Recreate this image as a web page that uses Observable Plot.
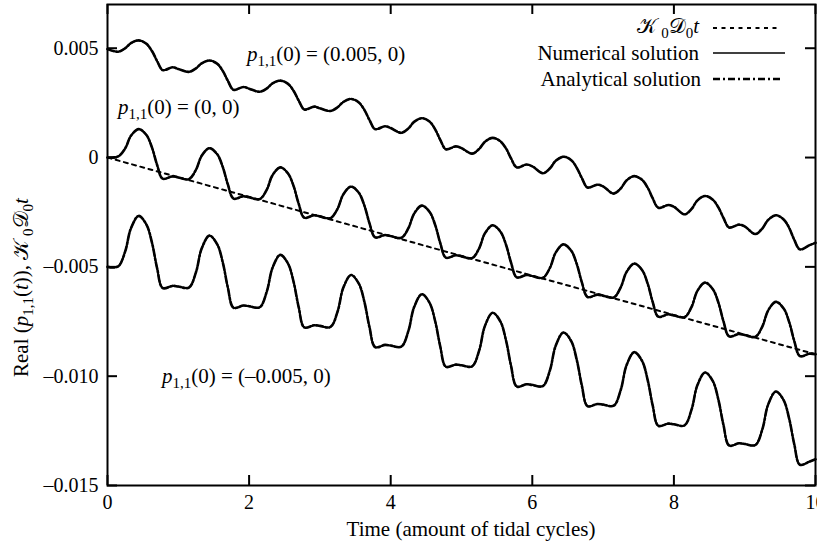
<!DOCTYPE html>
<html><head><meta charset="utf-8">
<script src="https://cdn.jsdelivr.net/npm/d3@7"></script>
<script src="https://cdn.jsdelivr.net/npm/@observablehq/plot@0.6"></script>
<style>body{margin:0;background:#fff}#chart{width:817px;height:548px}</style>
</head><body><div id="chart"></div>
<script>
// time samples (tidal cycles)
const times = [
0,0.15,0.25,0.33,0.44,0.55,0.63,0.70,0.78,0.92,
1,1.15,1.25,1.33,1.44,1.55,1.63,1.70,1.78,1.92,
2,2.15,2.25,2.33,2.44,2.55,2.63,2.70,2.78,2.92,
3,3.15,3.25,3.33,3.44,3.55,3.63,3.70,3.78,3.92,
4,4.15,4.25,4.33,4.44,4.55,4.63,4.70,4.78,4.92,
5,5.15,5.25,5.33,5.44,5.55,5.63,5.70,5.78,5.92,
6,6.15,6.25,6.33,6.44,6.55,6.63,6.70,6.78,6.92,
7,7.15,7.25,7.33,7.44,7.55,7.63,7.70,7.78,7.92,
8,8.15,8.25,8.33,8.44,8.55,8.63,8.70,8.78,8.92,
9,9.15,9.25,9.33,9.44,9.55,9.63,9.70,9.78,9.92,
10];
// Real p11(t), p11(0) = (0.005, 0)
const pPos = [
0.00496,0.00484,0.0050,0.00523,0.00536,0.0052,0.00486,0.00442,0.0040,0.00413,
0.00405,0.00392,0.00408,0.00431,0.00444,0.00429,0.00395,0.00351,0.0031,0.00323,
0.00315,0.00301,0.00316,0.00339,0.00352,0.00337,0.00304,0.00261,0.0022,0.00233,
0.00225,0.00213,0.0023,0.00254,0.00268,0.00252,0.00217,0.00172,0.0013,0.00143,
0.00135,0.00113,0.00133,0.00163,0.0018,0.00164,0.00128,0.00081,0.00038,0.00051,
0.00043,0.00018,0.0004,0.00072,0.0009,0.00074,0.00041,-0.00004,-0.00045,-0.00032,
-0.0004,-0.00072,-0.00049,-0.00015,0.00004,-0.00012,-0.00048,-0.00094,-0.00137,-0.00124,
-0.00132,-0.00165,-0.00141,-0.00105,-0.00085,-0.00102,-0.00138,-0.00186,-0.0023,-0.00217,
-0.00225,-0.0026,-0.00235,-0.00197,-0.00176,-0.00193,-0.00229,-0.00276,-0.0032,-0.00307,
-0.00315,-0.0035,-0.00324,-0.00286,-0.00264,-0.00283,-0.00323,-0.00376,-0.0042,-0.004,
-0.0039];
// Real p11(t), p11(0) = (0, 0)
const pZero = [
0,0.00005,0.00042,0.00099,0.0013,0.00103,0.00044,-0.00033,-0.00097,-0.00086,
-0.00091,-0.00099,-0.00056,0.00008,0.00043,0.00015,-0.00045,-0.00123,-0.00188,-0.00177,
-0.00182,-0.0019,-0.00147,-0.00081,-0.00045,-0.00073,-0.00132,-0.00211,-0.00275,-0.00264,
-0.00269,-0.00277,-0.00234,-0.00169,-0.00133,-0.00161,-0.00221,-0.003,-0.00365,-0.00354,
-0.00359,-0.00367,-0.00323,-0.00257,-0.0022,-0.00249,-0.0031,-0.00391,-0.00458,-0.00447,
-0.00452,-0.0046,-0.00415,-0.00347,-0.0031,-0.00339,-0.004,-0.00481,-0.00548,-0.00537,
-0.00542,-0.0055,-0.00504,-0.00435,-0.00397,-0.00426,-0.00489,-0.00571,-0.00638,-0.00627,
-0.00632,-0.0064,-0.00593,-0.00524,-0.00485,-0.00514,-0.00577,-0.0066,-0.00728,-0.00717,
-0.00722,-0.0073,-0.00683,-0.00611,-0.00572,-0.00602,-0.00665,-0.00749,-0.00818,-0.00807,
-0.00812,-0.0082,-0.00772,-0.007,-0.0066,-0.0069,-0.00754,-0.00839,-0.00908,-0.00897,
-0.009];
// Real p11(t), p11(0) = (-0.005, 0)
const pNeg = [
-0.005,-0.00498,-0.00429,-0.00325,-0.00267,-0.00307,-0.00392,-0.00505,-0.00597,-0.00587,
-0.0059,-0.00595,-0.00524,-0.00416,-0.00357,-0.00397,-0.00482,-0.00595,-0.00687,-0.00677,
-0.0068,-0.00685,-0.00613,-0.00505,-0.00445,-0.00485,-0.00571,-0.00684,-0.00777,-0.00767,
-0.0077,-0.00775,-0.00704,-0.00596,-0.00537,-0.00577,-0.00662,-0.00775,-0.00867,-0.00857,
-0.0086,-0.00865,-0.00793,-0.00685,-0.00625,-0.00665,-0.00751,-0.00864,-0.00957,-0.00947,
-0.0095,-0.00955,-0.00882,-0.00771,-0.0071,-0.0075,-0.00838,-0.00953,-0.01047,-0.01037,
-0.0104,-0.01045,-0.00972,-0.00861,-0.008,-0.0084,-0.00928,-0.01043,-0.01137,-0.01127,
-0.0113,-0.01135,-0.01062,-0.00951,-0.0089,-0.0093,-0.01018,-0.01133,-0.01227,-0.01217,
-0.0122,-0.01225,-0.01152,-0.01043,-0.00983,-0.01023,-0.0111,-0.01223,-0.01317,-0.01307,
-0.0131,-0.01315,-0.01242,-0.01131,-0.0107,-0.0111,-0.01197,-0.01311,-0.01405,-0.0139,
-0.0138];
// K0 D0 t line
const trendT = [0, 10];
const trendV = [0, -0.009];
const xTicks = [0, 2, 4, 6, 8, 10];
const yTicks = [0.005, 0, -0.005, -0.010, -0.015];
const seriesNames = ["(0.005, 0)", "(0, 0)", "(\u20130.005, 0)"];
const legendLabels = ["Numerical solution", "Analytical solution"];
const xTitle = "Time (amount of tidal cycles)";

const seriesValues = [pPos, pZero, pNeg];
const rows = seriesNames.flatMap((name, s) => times.map((t, i) => ({t, v: seriesValues[s][i], s: name})));
const trend = trendT.map((t, i) => ({t, v: trendV[i]}));
const fmtY = d => d === 0 ? "0" : (d < 0 ? "\u2013" : "") + Math.abs(d).toFixed(3);
const FONT = "'Liberation Serif','Times New Roman',serif";
const W = 817, H = 548, ML = 107, MR = 2, MT = 4, MB = 63, TICK = 10;
const innerW = W - ML - MR, innerH = H - MT - MB;

const chart = Plot.plot({
  width: W, height: H,
  marginLeft: ML, marginRight: MR, marginTop: MT, marginBottom: MB,
  style: {fontFamily: FONT, fontSize: "20px", color: "#000", background: "#fff", overflow: "visible"},
  x: {domain: [0, 10]},
  y: {domain: [-0.015, 0.007]},
  marks: [
    Plot.line(trend, {x: "t", y: "v", stroke: "#000", strokeWidth: 2, strokeDasharray: "4,4.5"}),
    Plot.line(rows, {x: "t", y: "v", z: "s", curve: "catmull-rom", stroke: "#000", strokeWidth: 1.6}),
    Plot.line(rows, {x: "t", y: "v", z: "s", curve: "catmull-rom", stroke: "#000", strokeWidth: 2.6, strokeDasharray: "7,2,2,2"}),
    // inward ticks on all four sides
    Plot.tickX(xTicks, {x: d => d, stroke: "#000", strokeWidth: 2, insetTop: innerH - TICK}),
    Plot.tickX(xTicks, {x: d => d, stroke: "#000", strokeWidth: 2, insetBottom: innerH - TICK}),
    Plot.tickY(yTicks, {y: d => d, stroke: "#000", strokeWidth: 2, insetRight: innerW - TICK}),
    Plot.tickY(yTicks, {y: d => d, stroke: "#000", strokeWidth: 2, insetLeft: innerW - TICK}),
    Plot.axisX(xTicks, {anchor: "bottom", tickSize: 0, tickPadding: 9, label: null, fontSize: 20, fontFamily: FONT}),
    Plot.axisY(yTicks, {anchor: "left", tickSize: 0, tickPadding: 9, tickFormat: fmtY, label: null, fontSize: 20, fontFamily: FONT}),
    Plot.frame({stroke: "#000", strokeWidth: 2})
  ]
});
document.getElementById("chart").appendChild(chart);

const svg = d3.select(chart);

function rich(parts, attrs, size = 21) {
  const t = svg.append("text").attr("font-family", FONT).attr("font-size", size).attr("fill", "#000").attr("text-anchor", "start");
  for (const k in attrs) t.attr(k, attrs[k]);
  let shift = 0;
  for (const p of parts) {
    const ts = t.append("tspan").text(p.s);
    if (p.i) ts.attr("font-style", "italic");
    const target = p.sub ? 5 : 0;
    if (target !== shift) { ts.attr("dy", target - shift); shift = target; }
    if (p.sub) ts.attr("font-size", Math.round(size * 0.72));
  }
  return t;
}
const K = "\u{1D4A6}", D = "\u{1D49F}";

// axis title
svg.append("text").attr("x", 471).attr("y", 536)
  .attr("text-anchor", "middle").attr("font-family", FONT).attr("font-size", 21).text(xTitle);
// y title
rich([{s: "Real ("}, {s: "p", i: 1}, {s: "1,1", sub: 1}, {s: "("}, {s: "t", i: 1}, {s: ")), "},
      {s: K}, {s: " 0", sub: 1}, {s: D}, {s: "0", sub: 1}, {s: "t", i: 1}],
     {transform: "translate(28,377) rotate(-90)"}, 21);

// annotations
const ann = [[247, 61, seriesNames[0]], [118, 114, seriesNames[1]], [162, 383, seriesNames[2]]];
for (const [x, y, s] of ann)
  rich([{s: "p", i: 1}, {s: "1,1", sub: 1}, {s: "(0) = " + s}], {x, y});

// legend
const lx0 = 713, lx1 = 783, tx = 699;
rich([{s: K}, {s: " 0", sub: 1}, {s: D}, {s: "0", sub: 1}, {s: "t", i: 1}], {x: tx, y: 33, "text-anchor": "end"});
svg.append("line").attr("x1", lx0).attr("x2", lx1 - 3).attr("y1", 28).attr("y2", 28).attr("stroke", "#000").attr("stroke-width", 2).attr("stroke-dasharray", "4,4.5");
svg.append("text").attr("x", tx).attr("y", 60).attr("text-anchor", "end").attr("font-family", FONT).attr("font-size", 21).text(legendLabels[0]);
svg.append("line").attr("x1", lx0).attr("x2", lx1 + 2).attr("y1", 53).attr("y2", 53).attr("stroke", "#000").attr("stroke-width", 1.3);
svg.append("text").attr("x", tx + 2).attr("y", 86).attr("text-anchor", "end").attr("font-family", FONT).attr("font-size", 21).text(legendLabels[1]);
svg.append("line").attr("x1", lx0).attr("x2", lx1).attr("y1", 79).attr("y2", 79).attr("stroke", "#000").attr("stroke-width", 2.4).attr("stroke-dasharray", "7,3,2,3");
</script></body></html>
